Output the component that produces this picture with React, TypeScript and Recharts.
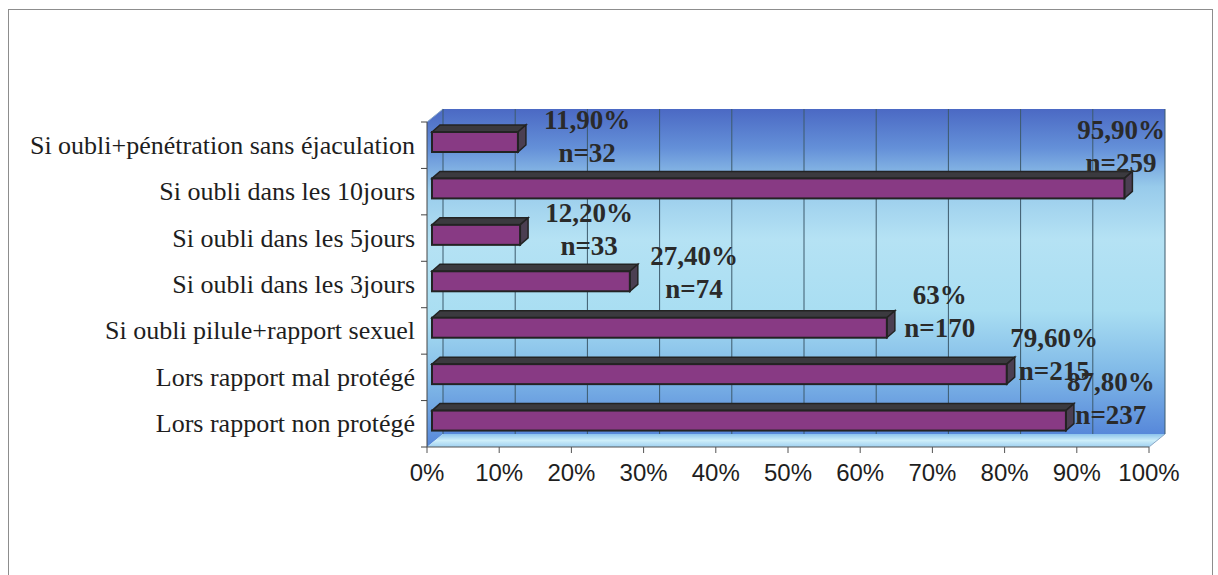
import { Bar, BarChart, CartesianGrid, LabelList, XAxis, YAxis } from "recharts"

const categories = [
  "Si oubli+pénétration sans éjaculation",
  "Si oubli dans les 10jours",
  "Si oubli dans les 5jours",
  "Si oubli dans les 3jours",
  "Si oubli pilule+rapport sexuel",
  "Lors rapport mal protégé",
  "Lors rapport non protégé",
]
const pctValues = [11.9, 95.9, 12.2, 27.4, 63, 79.6, 87.8]
const nValues = [32, 259, 33, 74, 170, 215, 237]
const xTicks = [0, 10, 20, 30, 40, 50, 60, 70, 80, 90, 100]

const data = categories.map((label, i) => ({ label, pct: pctValues[i], n: nValues[i] }))

// layout of the plot (front plane) and 3d depth offset of the back wall
const W = 1218
const H = 575
const PLOT_LEFT = 427
const PLOT_TOP = 122
const PLOT_W = 722
const PLOT_H = 325
const DX = 16
const DY = -13
const BAND = PLOT_H / categories.length

const fmtPct = (v: number) => (Number.isInteger(v) ? `${v}%` : `${v.toFixed(2).replace(".", ",")}%`)

function Bar3D(props: any) {
  const { x, y, width, height } = props
  const fx = x + 5
  const fy = y - 3
  const dx = 8
  const dy = -7
  return (
    <g>
      <polygon
        points={`${fx},${fy} ${fx + dx},${fy + dy} ${fx + width + dx},${fy + dy} ${fx + width},${fy}`}
        fill="#3b3a3f"
        stroke="#232323"
        strokeWidth={1.5}
      />
      <polygon
        points={`${fx + width},${fy} ${fx + width + dx},${fy + dy} ${fx + width + dx},${fy + height + dy} ${fx + width},${fy + height}`}
        fill="#4b3f52"
        stroke="#232323"
        strokeWidth={1.5}
      />
      <rect x={fx} y={fy} width={width} height={height} fill="#883a84" stroke="#232323" strokeWidth={2} />
    </g>
  )
}

function ValueLabel(props: any) {
  const { x, y, width, height, index } = props
  const frac = width / PLOT_W
  const barEnd = x + width + 13
  const maxX = PLOT_LEFT + PLOT_W - 28
  let cx = x + width + 78 - 32 * frac
  let lift = 0
  if (cx > maxX) {
    cx = maxX
    if (cx - 40 < barEnd) lift = 18
  }
  const top = y + height / 2 - 22 - 22 * frac - lift
  const style = { fontFamily: "'Liberation Serif', 'Times New Roman', serif", fontWeight: 700, fontSize: 27 }
  return (
    <g>
      <text x={cx} y={top} textAnchor="middle" dominantBaseline="central" fill="#2a2a2a" style={style}>
        {fmtPct(pctValues[index])}
      </text>
      <text x={cx} y={top + 33} textAnchor="middle" dominantBaseline="central" fill="#2a2a2a" style={style}>
        {`n=${nValues[index]}`}
      </text>
    </g>
  )
}

function CategoryTick(props: any) {
  const { x, y, payload, index } = props
  return (
    <g>
      <text
        x={x}
        y={y}
        textAnchor="end"
        dominantBaseline="central"
        fill="#1e1e1e"
        style={{ fontFamily: "'Liberation Serif', 'Times New Roman', serif", fontSize: 26 }}
      >
        {payload.value}
      </text>
      <line x1={PLOT_LEFT - 6} x2={PLOT_LEFT} y1={y - BAND / 2} y2={y - BAND / 2} stroke="#444" />
      {index === categories.length - 1 && (
        <line x1={PLOT_LEFT - 6} x2={PLOT_LEFT} y1={y + BAND / 2} y2={y + BAND / 2} stroke="#444" />
      )}
    </g>
  )
}

function Frame() {
  const L = PLOT_LEFT
  const T = PLOT_TOP
  const R = PLOT_LEFT + PLOT_W
  const B = PLOT_TOP + PLOT_H
  return (
    <svg width={W} height={H} style={{ position: "absolute", left: 0, top: 0 }}>
      <defs>
        <linearGradient id="wallGrad" x1="0" y1="0" x2="0" y2="1">
          <stop offset="0%" stopColor="#4b69c4" />
          <stop offset="12%" stopColor="#6490d8" />
          <stop offset="24%" stopColor="#98cbeb" />
          <stop offset="40%" stopColor="#b5e2f4" />
          <stop offset="62%" stopColor="#a9def2" />
          <stop offset="80%" stopColor="#82bbe8" />
          <stop offset="100%" stopColor="#5788da" />
        </linearGradient>
        <linearGradient id="floorGrad" x1="0" y1="0" x2="0" y2="1">
          <stop offset="0%" stopColor="#8cc3ec" />
          <stop offset="50%" stopColor="#cdeef9" />
          <stop offset="100%" stopColor="#9fd0f0" />
        </linearGradient>
      </defs>
      <rect x={8.5} y={9.5} width={1204} height={600} fill="#fff" stroke="#8d8d8d" />
      <polygon points={`${L},${T} ${L + DX},${T + DY} ${L + DX},${B + DY} ${L},${B}`} fill="url(#wallGrad)" />
      <rect x={L + DX} y={T + DY} width={PLOT_W} height={PLOT_H} fill="url(#wallGrad)" />
      <polygon points={`${L},${B} ${R},${B} ${R + DX},${B + DY} ${L + DX},${B + DY}`} fill="url(#floorGrad)" />
      <line x1={R} y1={B} x2={R + DX} y2={B + DY} stroke="#8aa8c8" />
      <line x1={L} y1={T} x2={L + DX} y2={T + DY} stroke="#8aa8c8" />
    </svg>
  )
}

export default function App() {
  return (
    <div style={{ position: "absolute", left: 0, top: 0, width: W, height: H, background: "#fff" }}>
      <style>{`.recharts-cartesian-grid { transform: translate(${DX}px, ${DY}px); }`}</style>
      <Frame />
      <div style={{ position: "absolute", left: 0, top: 0 }}>
        <BarChart
          width={W}
          height={H}
          data={data}
          layout="vertical"
          margin={{ top: PLOT_TOP, right: W - PLOT_LEFT - PLOT_W, left: 0, bottom: H - PLOT_TOP - PLOT_H - 40 }}
        >
          <CartesianGrid horizontal={false} stroke="#3d5a6c" strokeWidth={1} />
          <XAxis
            type="number"
            domain={[0, 100]}
            ticks={xTicks}
            interval={0}
            height={40}
            tickFormatter={(v) => `${v}%`}
            tickSize={6}
            tickMargin={11}
            axisLine={{ stroke: "#555" }}
            tickLine={{ stroke: "#555" }}
            tick={{ fill: "#1e1e1e", fontSize: 24, fontFamily: "'Liberation Sans', Arial, sans-serif" }}
          />
          <YAxis
            type="category"
            dataKey="label"
            width={PLOT_LEFT}
            tickSize={6}
            tickMargin={6}
            tickLine={false}
            axisLine={{ stroke: "#444" }}
            tick={<CategoryTick />}
          />
          <Bar dataKey="pct" barSize={20} shape={<Bar3D />} isAnimationActive={false}>
            <LabelList dataKey="pct" content={<ValueLabel />} />
          </Bar>
        </BarChart>
      </div>
    </div>
  )
}
